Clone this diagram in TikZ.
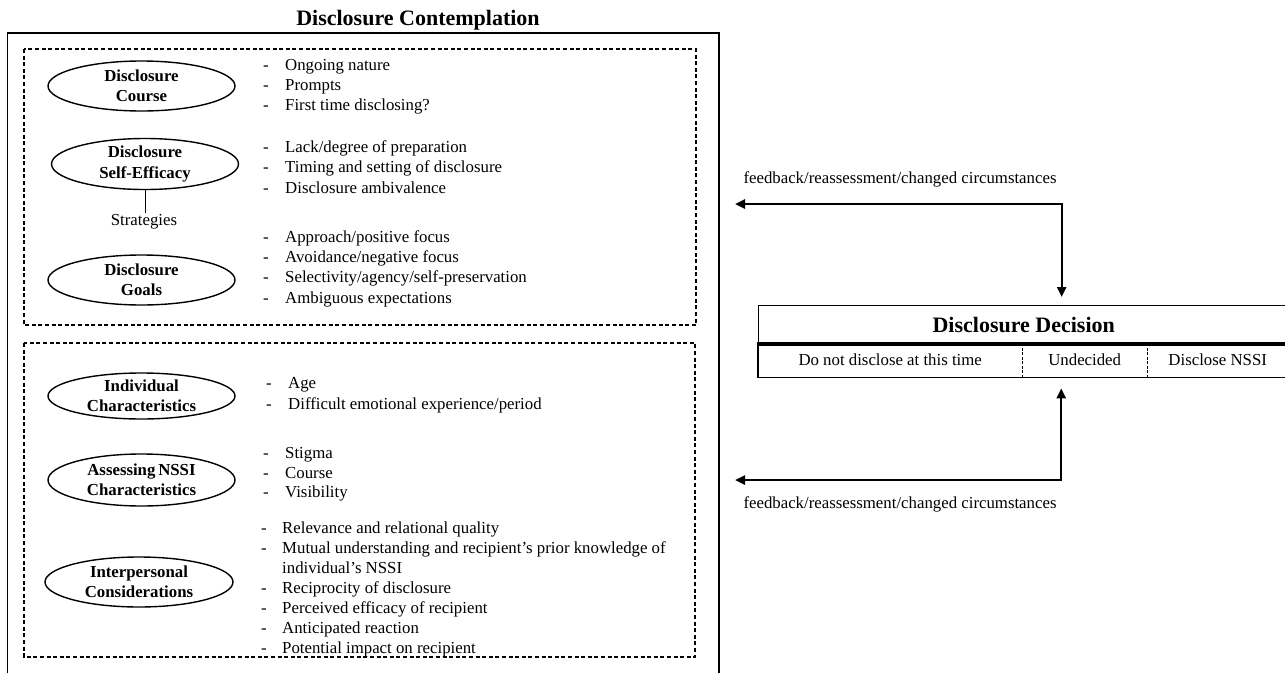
\documentclass[tikz,border=0pt]{standalone}
\usepackage{fontspec}
\setmainfont{Liberation Serif}
\usetikzlibrary{shapes.geometric,arrows.meta,calc}
\begin{document}
\begin{tikzpicture}[x=1pt,y=-1pt,
  txt/.style={font=\fontsize{16.8}{20.3}\selectfont},
  bigbold/.style={font=\fontsize{22}{26}\selectfont\bfseries},
  oval/.style={draw, ellipse, line width=1.4pt, minimum width=187pt, minimum height=50pt, inner sep=0pt},
  ovaltext/.style={font=\fontsize{16.8}{20.3}\selectfont\bfseries, align=center, inner sep=0pt},
  item/.style={txt, anchor=west, inner sep=0pt, text height=12pt, text depth=3pt},
  dashbox/.style={draw, dash pattern=on 4pt off 2.6pt, line width=1.3pt},
  frame/.style={line width=1.3pt},
  cell/.style={txt, inner sep=0pt, anchor=north west, minimum height=34pt},
  fbarrow/.style={line width=2.4pt, {Triangle[length=10pt,width=9pt]}-{Triangle[length=10pt,width=9pt]}}
]
\useasboundingbox (0,0) rectangle (1285,672);

% left panel
\node[bigbold] (title) at (418,20) {Disclosure Contemplation};
\draw[frame] (7.5,690) -- (7.5,33) -- (719,33) -- (719,690);
\draw[dashbox] (24,49) rectangle (696,325);
\draw[dashbox] (24,343) rectangle (695,657);

% ellipses
\node[oval] (e1) at (141.5,86) {};
\node[ovaltext] (t1) at (e1) {Disclosure\\Course};
\node[oval, minimum height=51pt] (e2) at (145,164) {};
\node[ovaltext] (t2) at (e2) {Disclosure\\Self-Efficacy};
\node[oval] (e3) at (141.5,280) {};
\node[ovaltext] (t3) at (e3) {Disclosure\\Goals};
\node[oval, minimum height=46pt] (e4) at (141.5,396) {};
\node[ovaltext] (t4) at (e4) {Individual\\Characteristics};
\node[oval, minimum height=52pt] (e5) at (141.5,480) {};
\node[ovaltext] (t5) at (e5) {Assessing\,NSSI\\Characteristics};
\node[oval, minimum width=188pt] (e6) at (139,582) {};
\node[ovaltext] (t6) at (e6) {Interpersonal\\Considerations};

\node[txt, inner sep=1pt] (strat) at (144,222) {Strategies};
\draw[line width=1pt] (e2.south) -- (e2.south |- strat.north);

% lists
\foreach \t [count=\i] in {Ongoing nature,Prompts,First time disclosing?}{
  \node[item] (la\i) at (285,{65.7+20.3*(\i-1)}) {\t};
  \node[item] (da\i) at (263,{65.7+20.3*(\i-1)}) {-};
}
\foreach \t [count=\i] in {Lack/degree of preparation,Timing and setting of disclosure,Disclosure ambivalence}{
  \node[item] (lb\i) at (285,{148+20.3*(\i-1)}) {\t};
  \node[item] (db\i) at (263,{148+20.3*(\i-1)}) {-};
}
\foreach \t [count=\i] in {Approach/positive focus,Avoidance/negative focus,Selectivity/agency/self-preservation,Ambiguous expectations}{
  \node[item] (lc\i) at (285,{238+20.2*(\i-1)}) {\t};
  \node[item] (dc\i) at (263,{238+20.2*(\i-1)}) {-};
}
\foreach \t [count=\i] in {Age,Difficult emotional experience/period}{
  \node[item] (ld\i) at (288,{384+20.5*(\i-1)}) {\t};
  \node[item] (dd\i) at (266,{384+20.5*(\i-1)}) {-};
}
\foreach \t [count=\i] in {Stigma,Course,Visibility}{
  \node[item] (le\i) at (285,{454+19.7*(\i-1)}) {\t};
  \node[item] (de\i) at (263,{454+19.7*(\i-1)}) {-};
}
\foreach \t/\yy [count=\i] in {Relevance and relational quality/529,Mutual understanding and recipient’s prior knowledge of/549,Reciprocity of disclosure/589,Perceived efficacy of recipient/609,Anticipated reaction/629,Potential impact on recipient/649}{
  \node[item] (lf\i) at (282,\yy) {\t};
  \node[item] (df\i) at (261,\yy) {-};
}
\node[item] (lf2b) at (282,569) {individual’s NSSI};

% decision box
\node[bigbold, draw, line width=1.4pt, minimum width=530pt, minimum height=38pt, inner sep=0pt, anchor=north west] (dec) at (758,305) {Disclosure Decision};
\node[cell, minimum width=264pt] (c1) at (758,343) {Do not disclose at this time};
\node[cell, minimum width=125pt] (c2) at (1022,343) {Undecided};
\node[cell, minimum width=141pt] (c3) at (1147,343) {Disclose NSSI};
\draw[line width=1.4pt] (c1.north west) rectangle (c3.south east);
\draw[line width=2.4pt] (dec.south west) -- (dec.south east);
\draw[line width=1.2pt, dash pattern=on 3pt off 1.5pt] (c1.north east) -- (c1.south east);
\draw[line width=1.2pt, dash pattern=on 3pt off 1.5pt] (c2.north east) -- (c2.south east);

% feedback arrows
\coordinate (fbt) at (735,204);
\coordinate (fbb) at (735,480);
\draw[fbarrow, shorten >=8pt] (fbt) -| ([xshift=38pt]dec.north);
\draw[fbarrow, shorten >=11pt] (fbb) -| ([xshift=-23.5pt]c2.south);
\node[txt] (fb1) at (900,179) {feedback/reassessment/changed circumstances};
\node[txt] (fb2) at (900,504) {feedback/reassessment/changed circumstances};
\end{tikzpicture}
\end{document}
